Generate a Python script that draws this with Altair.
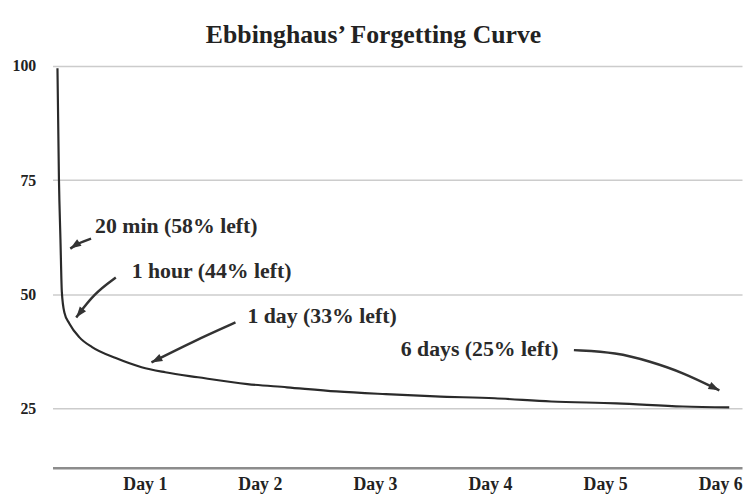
import altair as alt
import pandas as pd

FONT = "Liberation Serif"
INK = "#2a2a2a"

title_text = "Ebbinghaus’ Forgetting Curve"

# forgetting curve (x in days, y in % retained)
curve_day = [0.241, 0.254, 0.267, 0.279, 0.301, 0.344, 0.430, 0.542, 0.748, 0.972,
             1.178, 1.462, 1.892, 2.236, 2.666, 3.095, 3.525, 4.041, 4.531, 5.099,
             5.675, 6.079]
curve_pct = [99.5, 75.0, 62.0, 50.5, 46.0, 43.6, 40.6, 38.4, 36.0, 34.0,
             32.9, 31.8, 30.3, 29.6, 28.7, 28.1, 27.6, 27.2, 26.5, 26.1,
             25.4, 25.2]

day_ticks = [1, 2, 3, 4, 5, 6]
pct_ticks = [25, 50, 75, 100]

# annotation labels
note_labels = ["20 min (58% left)", "1 hour (44% left)", "1 day (33% left)", "6 days (25% left)"]
note_x = [0.568, 0.886, 1.892, 3.224]
note_y = [63.5, 53.65, 43.8, 36.4]

# arrow shafts
arrow_id = [1, 1, 1, 2, 2, 2, 3, 3, 3, 4, 4, 4, 4, 4]
arrow_ord = [0, 1, 2, 0, 1, 2, 0, 1, 2, 0, 1, 2, 3, 4]
arrow_x = [0.533, 0.430, 0.3525, 0.748, 0.559, 0.404, 1.788, 1.419, 1.058,
           4.729, 5.099, 5.391, 5.675, 5.993]
arrow_y = [62.17, 61.29, 59.99, 53.65, 50.15, 44.90, 43.81, 39.65, 35.06,
           37.75, 37.25, 35.28, 32.87, 28.94]

# arrow heads
head_x = [0.3525, 0.404, 1.058, 5.993]
head_y = [59.99, 44.90, 35.06, 28.94]
head_angle = [236, 218, 243, 116]

curve_df = pd.DataFrame({"day": curve_day, "pct": curve_pct})
note_df = pd.DataFrame({"day": note_x, "pct": note_y, "label": note_labels})
arrow_df = pd.DataFrame({"id": arrow_id, "ord": arrow_ord, "day": arrow_x, "pct": arrow_y})
head_df = pd.DataFrame({"day": head_x, "pct": head_y, "ang": head_angle})

x_scale = alt.Scale(domain=[0.198, 6.19], nice=False, zero=False)
y_scale = alt.Scale(domain=[12, 100], nice=False, zero=False)

x_enc = alt.X(
    "day:Q", scale=x_scale, title=None,
    axis=alt.Axis(values=day_ticks, labelExpr="'Day ' + datum.value", grid=False,
                  ticks=False, domain=True, domainColor="#8c8c8c", domainWidth=2.5,
                  labelFont=FONT, labelFontSize=18, labelFontWeight="bold",
                  labelColor="#222222", labelPadding=8),
)
y_enc = alt.Y(
    "pct:Q", scale=y_scale, title=None,
    axis=alt.Axis(values=pct_ticks, grid=True, gridColor="#cccccc", gridWidth=1.5,
                  ticks=False, domain=False, labelFont=FONT, labelFontSize=16,
                  labelFontWeight="bold", labelColor="#222222", labelPadding=17),
)

curve = alt.Chart(curve_df).mark_line(
    color=INK, strokeWidth=2.2, interpolate="monotone"
).encode(x=x_enc, y=y_enc)

arrows = alt.Chart(arrow_df).mark_line(
    color="#333333", strokeWidth=2.5, interpolate="basis"
).encode(x="day:Q", y="pct:Q", detail="id:N", order="ord:Q")

heads = alt.Chart(head_df).mark_point(
    shape="M0,0L-0.8,2.2L0.8,2.2Z", filled=True, size=100, color="#333333", opacity=1
).encode(x="day:Q", y="pct:Q", angle=alt.Angle("ang:Q", scale=None))

notes = alt.Chart(note_df).mark_text(
    align="left", baseline="alphabetic", font=FONT, fontSize=22,
    fontWeight="bold", color="#2a2a2a"
).encode(x="day:Q", y="pct:Q", text="label:N")

chart = alt.layer(curve, arrows, heads, notes).properties(
    width=697,
    height=406,
    padding={"left": 45, "top": 56, "right": 2, "bottom": 24},
    autosize=alt.AutoSizeParams(type="none"),
    title=alt.Title(title_text, font=FONT, fontSize=26, fontWeight="bold",
                    color="#222222", anchor="middle", dx=-24, offset=22, dy=33,
                    baseline="alphabetic"),
    background="white",
).configure_view(stroke=None)

chart.save("out.html", embed_options={"renderer": "svg", "actions": False})
